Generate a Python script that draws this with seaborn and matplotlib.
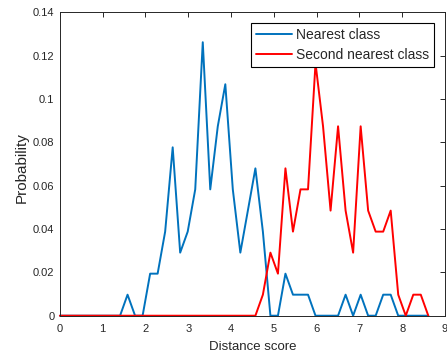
"""
plot.py — распределение вероятностей по distance score (ближайший / второй ближайший класс)
"""

import numpy as np
import pandas as pd
import matplotlib
matplotlib.use("Agg")
import matplotlib.pyplot as plt
from matplotlib.ticker import FuncFormatter
import seaborn as sns


# ── Данные ────────────────────────────────────────────────────────────────────

distance = [
    0.000, 0.176, 0.351, 0.527, 0.703, 0.879, 1.054, 1.230, 1.406, 1.581,
    1.757, 1.933, 2.109, 2.284, 2.460, 2.636, 2.811, 2.987, 3.163, 3.339,
    3.514, 3.690, 3.866, 4.041, 4.217, 4.393, 4.569, 4.744, 4.920, 5.096,
    5.271, 5.447, 5.623, 5.799, 5.974, 6.150, 6.326, 6.501, 6.677, 6.853,
    7.029, 7.204, 7.380, 7.556, 7.731, 7.907, 8.083, 8.259, 8.434, 8.610,
]

nearest = [
    0, 0, 0, 0, 0, 0, 0, 0, 0, 0.0097,
    0, 0, 0.0194, 0.0194, 0.0388, 0.0777, 0.0291, 0.0388, 0.0583, 0.1262,
    0.0583, 0.0874, 0.1068, 0.0583, 0.0291, 0.0485, 0.0680, 0.0388, 0, 0,
    0.0194, 0.0097, 0.0097, 0.0097, 0, 0, 0, 0, 0.0097, 0,
    0.0097, 0, 0, 0.0097, 0.0097, 0, 0, 0, 0, 0,
]

second_nearest = [
    0, 0, 0, 0, 0, 0, 0, 0, 0, 0,
    0, 0, 0, 0, 0, 0, 0, 0, 0, 0,
    0, 0, 0, 0, 0, 0, 0, 0.0097, 0.0291, 0.0194,
    0.0680, 0.0388, 0.0583, 0.0583, 0.1165, 0.0874, 0.0485, 0.0874, 0.0485, 0.0291,
    0.0874, 0.0485, 0.0388, 0.0388, 0.0485, 0.0097, 0, 0.0097, 0.0097, 0,
]

series_names = ["Nearest class", "Second nearest class"]
colors = ["#0072BD", "#FF0000"]

x_ticks = list(range(0, 10))
y_ticks = [0, 0.02, 0.04, 0.06, 0.08, 0.1, 0.12, 0.14]


# ── Таблица для seaborn ───────────────────────────────────────────────────────

df = pd.concat([
    pd.DataFrame({"x": distance, "p": nearest, "series": series_names[0]}),
    pd.DataFrame({"x": distance, "p": second_nearest, "series": series_names[1]}),
], ignore_index=True)


# ── График ────────────────────────────────────────────────────────────────────

sns.set_style("white")
plt.rcParams["font.family"] = ["Liberation Sans", "DejaVu Sans"]

fig = plt.figure(figsize=(4.47, 3.56), dpi=100)
ax = fig.add_axes([0.134, 0.1132, 0.8615, 0.8522])

sns.lineplot(
    data=df, x="x", y="p", hue="series",
    hue_order=series_names, palette=colors,
    linewidth=1.4, ax=ax, clip_on=False,
)

ax.set_xlim(0, 9)
ax.set_ylim(0, 0.14)
ax.set_xticks(x_ticks)
ax.set_yticks(y_ticks)
ax.yaxis.set_major_formatter(FuncFormatter(lambda v, _: f"{v:g}"))

# рамка и тики в стиле MATLAB
dark = "#262626"
for side in ["top", "right", "bottom", "left"]:
    ax.spines[side].set_visible(True)
    ax.spines[side].set_color(dark)
    ax.spines[side].set_linewidth(0.7)
ax.tick_params(direction="in", length=3.5, width=0.7, colors=dark,
               labelsize=8, top=True, right=True)
ax.tick_params(axis="x", pad=6)
ax.tick_params(axis="y", pad=4)

ax.set_xlabel("Distance score", fontsize=9.5, color=dark, labelpad=5)
ax.set_ylabel("Probability", fontsize=11, color=dark)
ax.yaxis.set_label_coords(-0.082, 0.487)

leg = ax.legend(
    loc="upper right", fontsize=10, frameon=True, fancybox=False,
    framealpha=1, edgecolor="black", handlelength=2.6,
    handletextpad=0.25, borderaxespad=0.8, borderpad=0.35,
    labelspacing=0.4,
)
leg.get_frame().set_linewidth(0.8)

fig.savefig("out.png", dpi=100)
